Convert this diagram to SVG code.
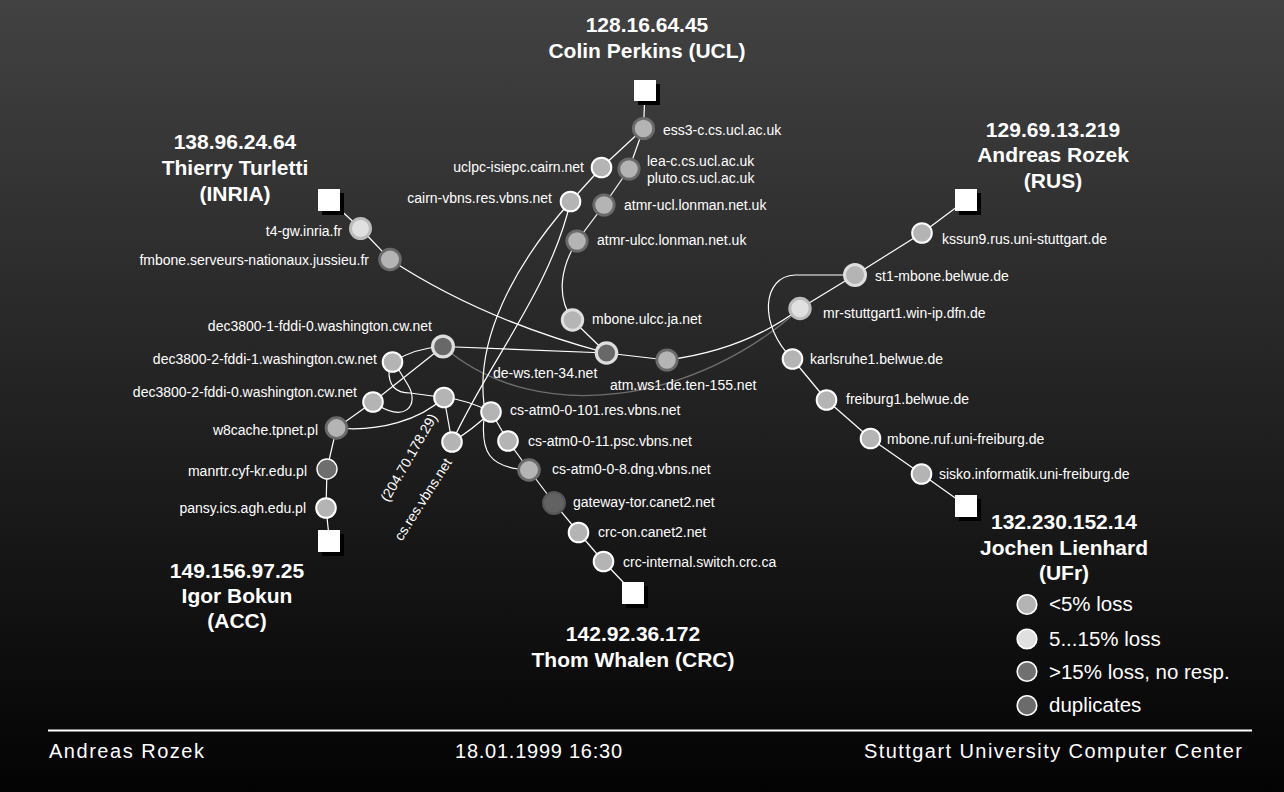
<svg xmlns="http://www.w3.org/2000/svg" width="1284" height="792" viewBox="0 0 1284 792">
<defs>
<linearGradient id="bg" x1="0" y1="0" x2="0" y2="1">
<stop offset="0" stop-color="#424242"/>
<stop offset="1" stop-color="#030303"/>
</linearGradient>
<style>
.lbl{font-family:"Liberation Sans",Arial,sans-serif;font-size:14px;fill:#fff}
.end{text-anchor:end}
.ttl{font-family:"Liberation Sans",Arial,sans-serif;font-size:21px;font-weight:bold;fill:#fff;text-anchor:middle}
.leg{font-family:"Liberation Sans",Arial,sans-serif;font-size:20.5px;fill:#fff}
.ft{font-family:"Liberation Sans",Arial,sans-serif;font-size:20px;fill:#fff}
.e{stroke:#fff;stroke-width:1.2;fill:none}
.eg{stroke:#6e6e6e;stroke-width:1.4;fill:none}
.sq{fill:#fff}
.sh{fill:#000}
.n{fill:#b4b4b4;stroke:#fff;stroke-width:2}
.nd{fill:#b4b4b4;stroke:#6a6a6a;stroke-width:2.8}
.nl{fill:#686868;stroke:#dedede;stroke-width:3.2}
.nm{fill:#b4b4b4;stroke:#dedede;stroke-width:3}
.np{fill:#e0e0e0;stroke:#bcbcbc;stroke-width:3}
.nx{fill:#626262;stroke:#555;stroke-width:2}
.nk{fill:#6e6e6e;stroke:#fff;stroke-width:1.4}
</style>
</defs>
<rect x="0" y="0" width="1284" height="792" fill="url(#bg)"/>

<g id="connectors">
<path class="e" d="M645,91 L643.5,128.5"/>
<path class="e" d="M643.5,128.5 L601.5,167.5"/>
<path class="e" d="M643.5,128.5 L629,169"/>
<path class="e" d="M601.5,167.5 L570.5,201.5"/>
<path class="e" d="M629,169 L604,205"/>
<path class="e" d="M604,205 L577,241"/>
<path class="e" d="M577,241 C562,265 555,295 572.5,320"/>
<path class="e" d="M572.5,320 L606.5,353"/>
<path class="e" d="M390,259.5 Q481.75,319.75 606.5,353"/>
<path class="e" d="M329.5,200 L360.5,228.5"/>
<path class="e" d="M360.5,228.5 L390,259.5"/>
<path class="e" d="M443,346.5 L606.5,353"/>
<path class="e" d="M606.5,353 L667,360"/>
<path class="e" d="M667,360 Q745,350 800,308.5"/>
<path class="eg" d="M443,346.5 C540,430 700,400 800,308.5"/>
<path class="e" d="M800,308.5 L855,275"/>
<path class="e" d="M855,275 L922,233"/>
<path class="e" d="M922,233 L965.5,200.5"/>
<path class="e" d="M855,275 L795,275 C762,276 758,325 792.5,359"/>
<path class="e" d="M792.5,359 L826.5,400"/>
<path class="e" d="M826.5,400 L870.5,438.5"/>
<path class="e" d="M870.5,438.5 L921.5,474"/>
<path class="e" d="M921.5,474 L966.5,506"/>
<path class="e" d="M570.5,201.5 C512,268 476,340 484,404"/>
<path class="e" d="M570.5,201.5 C550,290 490,360 452,442"/>
<path class="e" d="M392.5,362 Q415,348 443,346.5"/>
<path class="e" d="M373,402 L443,346.5"/>
<path class="e" d="M389,370 Q388,393 410,393 L444,397.5"/>
<path class="e" d="M373,402 C405,425 420,405 408,385 L394,362"/>
<path class="e" d="M336.5,428 L373,402"/>
<path class="e" d="M336.5,428 C380,432 420,420 444,397.5"/>
<path class="e" d="M336.5,428 L327,469"/>
<path class="e" d="M327,469 L326,508"/>
<path class="e" d="M326,508 L329.5,541"/>
<path class="e" d="M444,397.5 Q468,400 491,412"/>
<path class="e" d="M444,397.5 L452,442"/>
<path class="e" d="M452,442 Q472,430 491,412"/>
<path class="e" d="M491,412 L508,441"/>
<path class="e" d="M484,418 C481,450 487,468 529,470"/>
<path class="e" d="M508,441 L529,470"/>
<path class="e" d="M529,470 L554,503"/>
<path class="e" d="M554,503 L578.5,532.5"/>
<path class="e" d="M578.5,532.5 L603.5,561.5"/>
<path class="e" d="M603.5,561.5 L633,592.5"/>
</g>

<g id="host-ucl">
<rect class="sh" x="638" y="84" width="22" height="21"/>
<rect class="sq" x="634" y="80" width="22" height="21"/>
<text class="ttl" x="647" y="32">128.16.64.45</text>
<text class="ttl" x="647" y="58">Colin Perkins (UCL)</text>
</g>
<g id="host-inria">
<rect class="sh" x="322" y="193" width="22" height="22"/>
<rect class="sq" x="318" y="189" width="22" height="22"/>
<text class="ttl" x="235" y="149">138.96.24.64</text>
<text class="ttl" x="235" y="175">Thierry Turletti</text>
<text class="ttl" x="235" y="201">(INRIA)</text>
</g>
<g id="host-rus">
<rect class="sh" x="959" y="193" width="22" height="22"/>
<rect class="sq" x="955" y="189" width="22" height="22"/>
<text class="ttl" x="1053" y="137">129.69.13.219</text>
<text class="ttl" x="1053" y="162">Andreas Rozek</text>
<text class="ttl" x="1053" y="188">(RUS)</text>
</g>
<g id="host-ufr">
<rect class="sh" x="959" y="499" width="22" height="22"/>
<rect class="sq" x="955" y="495" width="22" height="22"/>
<text class="ttl" x="1064" y="529">132.230.152.14</text>
<text class="ttl" x="1064" y="555">Jochen Lienhard</text>
<text class="ttl" x="1064" y="580">(UFr)</text>
</g>
<g id="host-crc">
<rect class="sh" x="626" y="586" width="22" height="22"/>
<rect class="sq" x="622" y="582" width="22" height="22"/>
<text class="ttl" x="633" y="641">142.92.36.172</text>
<text class="ttl" x="633" y="667">Thom Whalen (CRC)</text>
</g>
<g id="host-acc">
<rect class="sh" x="322" y="534" width="22" height="22"/>
<rect class="sq" x="318" y="530" width="22" height="22"/>
<text class="ttl" x="237" y="578">149.156.97.25</text>
<text class="ttl" x="237" y="603">Igor Bokun</text>
<text class="ttl" x="237" y="628">(ACC)</text>
</g>

<g id="ess3-c"><circle class="nd" cx="643.5" cy="128.5" r="10.2"/><text class="lbl" x="663" y="135">ess3-c.cs.ucl.ac.uk</text></g>
<g id="uclpc-isiepc"><circle class="n" cx="601.5" cy="167.5" r="9.8"/><text class="lbl end" x="584" y="172">uclpc-isiepc.cairn.net</text></g>
<g id="lea-c"><circle class="nd" cx="629" cy="169" r="10.2"/><text class="lbl" x="647" y="166">lea-c.cs.ucl.ac.uk</text><text class="lbl" x="647" y="183">pluto.cs.ucl.ac.uk</text></g>
<g id="cairn-vbns"><circle class="n" cx="570.5" cy="201.5" r="9.8"/><text class="lbl end" x="552" y="203">cairn-vbns.res.vbns.net</text></g>
<g id="atmr-ucl"><circle class="nd" cx="604" cy="205" r="10.2"/><text class="lbl" x="624" y="210">atmr-ucl.lonman.net.uk</text></g>
<g id="atmr-ulcc"><circle class="nd" cx="577" cy="241" r="10.2"/><text class="lbl" x="597" y="245">atmr-ulcc.lonman.net.uk</text></g>
<g id="mbone-ulcc"><circle class="nm" cx="572.5" cy="320" r="10.2"/><text class="lbl" x="592" y="324">mbone.ulcc.ja.net</text></g>
<g id="t4-gw"><circle class="np" cx="360.5" cy="228.5" r="10"/><text class="lbl end" x="342" y="236">t4-gw.inria.fr</text></g>
<g id="fmbone"><circle class="nd" cx="390" cy="259.5" r="10.4"/><text class="lbl end" x="369" y="265">fmbone.serveurs-nationaux.jussieu.fr</text></g>
<g id="de-ws"><circle class="nl" cx="606.5" cy="353" r="10.2"/><text class="lbl" x="493" y="378">de-ws.ten-34.net</text></g>
<g id="atm-ws1"><circle class="nd" cx="667" cy="360" r="10.2"/><text class="lbl" x="610" y="390">atm.ws1.de.ten-155.net</text></g>
<g id="kssun9"><circle class="n" cx="922" cy="233" r="9.8"/><text class="lbl" x="942" y="244">kssun9.rus.uni-stuttgart.de</text></g>
<g id="st1-mbone"><circle class="nm" cx="855" cy="275" r="10.5"/><text class="lbl" x="875" y="281">st1-mbone.belwue.de</text></g>
<g id="mr-stuttgart1"><circle class="np" cx="800" cy="308.5" r="10.2"/><text class="lbl" x="823" y="318">mr-stuttgart1.win-ip.dfn.de</text></g>
<g id="karlsruhe1"><circle class="n" cx="792.5" cy="359" r="9.8"/><text class="lbl" x="810" y="364">karlsruhe1.belwue.de</text></g>
<g id="freiburg1"><circle class="n" cx="826.5" cy="400" r="9.8"/><text class="lbl" x="846" y="404">freiburg1.belwue.de</text></g>
<g id="mbone-ruf"><circle class="n" cx="870.5" cy="438.5" r="9.8"/><text class="lbl" x="887" y="444">mbone.ruf.uni-freiburg.de</text></g>
<g id="sisko"><circle class="n" cx="921.5" cy="474" r="9.8"/><text class="lbl" x="939" y="479">sisko.informatik.uni-freiburg.de</text></g>
<g id="dec3800-1-fddi-0"><circle class="nl" cx="443" cy="346.5" r="10.4"/><text class="lbl end" x="432" y="331">dec3800-1-fddi-0.washington.cw.net</text></g>
<g id="dec3800-2-fddi-1"><circle class="n" cx="392.5" cy="362" r="9.8"/><text class="lbl end" x="377" y="364">dec3800-2-fddi-1.washington.cw.net</text></g>
<g id="dec3800-2-fddi-0"><circle class="n" cx="373" cy="402" r="9.8"/><text class="lbl end" x="357" y="397">dec3800-2-fddi-0.washington.cw.net</text></g>
<g id="unnamed"><circle class="n" cx="444" cy="397.5" r="9.8"/></g>
<g id="w8cache"><circle class="nd" cx="336.5" cy="428" r="10.4"/><text class="lbl end" x="318" y="435">w8cache.tpnet.pl</text></g>
<g id="manrtr"><circle class="nk" cx="327" cy="469" r="10"/><text class="lbl end" x="307" y="476">manrtr.cyf-kr.edu.pl</text></g>
<g id="pansy"><circle class="n" cx="326" cy="508" r="9.8"/><text class="lbl end" x="306" y="513">pansy.ics.agh.edu.pl</text></g>
<g id="cs-res-vbns"><circle class="n" cx="452" cy="442" r="9.8"/>
<text class="lbl" text-anchor="middle" transform="translate(413,460) rotate(-60)">(204.70.178.29)</text>
<text class="lbl" text-anchor="middle" transform="translate(427,502) rotate(-57.5)">cs.res.vbns.net</text></g>
<g id="cs-atm0-0-101"><circle class="n" cx="491" cy="412" r="9.8"/><text class="lbl" x="510" y="415">cs-atm0-0-101.res.vbns.net</text></g>
<g id="cs-atm0-0-11"><circle class="n" cx="508" cy="441" r="9.8"/><text class="lbl" x="528" y="446">cs-atm0-0-11.psc.vbns.net</text></g>
<g id="cs-atm0-0-8"><circle class="nd" cx="529" cy="470" r="10.4"/><text class="lbl" x="552" y="474">cs-atm0-0-8.dng.vbns.net</text></g>
<g id="gateway-tor"><circle class="nx" cx="554" cy="503" r="11"/><text class="lbl" x="573" y="507">gateway-tor.canet2.net</text></g>
<g id="crc-on"><circle class="n" cx="578.5" cy="532.5" r="9.8"/><text class="lbl" x="598" y="537">crc-on.canet2.net</text></g>
<g id="crc-internal"><circle class="n" cx="603.5" cy="561.5" r="9.8"/><text class="lbl" x="623" y="567">crc-internal.switch.crc.ca</text></g>

<g id="legend">
<circle cx="1027" cy="604.5" r="9.8" fill="#b4b4b4" stroke="#fff" stroke-width="1.6"/>
<circle cx="1027" cy="639" r="9.8" fill="#e0e0e0" stroke="#fff" stroke-width="1.6"/>
<circle cx="1027" cy="671.5" r="9.8" fill="#707070" stroke="#fff" stroke-width="1.6"/>
<circle cx="1027" cy="705.5" r="9.8" fill="#6b6b6b" stroke="#fff" stroke-width="1.6"/>
<text class="leg" x="1049" y="611">&lt;5% loss</text>
<text class="leg" x="1049" y="646">5...15% loss</text>
<text class="leg" x="1049" y="679">&gt;15% loss, no resp.</text>
<text class="leg" x="1049" y="712">duplicates</text>
</g>

<g id="footer">
<line x1="48" y1="730.5" x2="1252" y2="730.5" stroke="#fff" stroke-width="2"/>
<text class="ft" x="49" y="758" textLength="155" lengthAdjust="spacing">Andreas Rozek</text>
<text class="ft" x="455" y="758" textLength="167" lengthAdjust="spacing">18.01.1999 16:30</text>
<text class="ft" x="864" y="758" textLength="378" lengthAdjust="spacing">Stuttgart University Computer Center</text>
</g>
</svg>
